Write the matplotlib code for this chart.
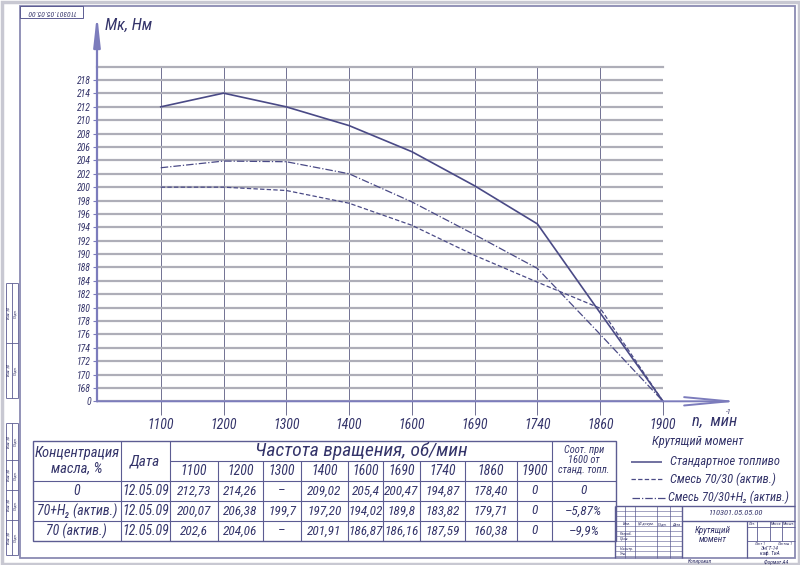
import numpy as np
import matplotlib
matplotlib.use('Agg')
import matplotlib.pyplot as plt
from matplotlib import font_manager
from matplotlib.patches import FancyArrowPatch, Rectangle
from matplotlib.ticker import NullLocator

# --- values ---
rpm = ['1100', '1200', '1300', '1400', '1600', '1690', '1740', '1860', '1900']
torque_std = [212.0, 214.1, 212.0, 209.2, 205.3, 200.2, 194.5, 179.2, 0]
torque_mix = [200.0, 200.0, 199.5, 197.6, 194.3, 189.8, 183.8, 179.9, 0]
torque_mix_h2 = [202.9, 203.9, 203.8, 202.0, 197.8, 192.9, 187.7, 176.0, 0]

# y labels exactly as printed on the sheet (216 and 186 are missing there)
y_ticks = [0, 168, 170, 172, 174, 176, 178, 180, 182, 184,
           188, 190, 192, 194, 196, 198, 200, 202, 204, 206, 208, 210, 212, 214, 218]

table_head = ['Концентрация\nмасла, %', 'Дата']
table_rows = [
    ['0', '12.05.09', '212,73', '214,26', '–', '209,02', '205,4', '200,47', '194,87', '178,40', '0', '0'],
    ['70+H₂ (актив.)', '12.05.09', '200,07', '206,38', '199,7', '197,20', '194,02', '189,8', '183,82', '179,71', '0', '–5,87%'],
    ['70 (актив.)', '12.05.09', '202,6', '204,06', '–', '201,91', '186,87', '186,16', '187,59', '160,38', '0', '–9,9%'],
]
legend_labels = ['Стандартное топливо', 'Смесь 70/30 (актив.)', 'Смесь 70/30+H₂ (актив.)']

# narrow italic face if there is one
names = {f.name for f in font_manager.fontManager.ttflist}
base = 'DejaVu Sans'
for cand in ['Roboto Condensed', 'Liberation Sans Narrow', 'Roboto', 'Liberation Sans']:
    if cand in names:
        base = cand
        break
plt.rcParams['font.family'] = [base, 'DejaVu Sans']
plt.rcParams['font.style'] = 'italic'

W, H = 800, 565
ink = '#34346a'
line_c = '#5c5c92'
axis_c = '#7c7cbc'
curve_c = '#4a4a86'

fig = plt.figure(figsize=(W / 100, H / 100), dpi=100)


# broken y scale: 0..168 squeezed into one cell, 184..188 and 214..218 too
val_k = [0, 168, 184, 188, 214, 218, 222]
pos_k = [168, 170, 186, 188, 214, 216, 218]


def fwd(v):
    return np.interp(v, val_k, pos_k)


def inv(p):
    return np.interp(p, pos_k, val_k)


ax = fig.add_axes([97 / W, 1 - 401.3 / H, (663 - 97) / W, (401.3 - 66.7) / H])
ax.set_zorder(1)
ax.patch.set_alpha(0)
ax.set_yscale('function', functions=(fwd, inv))
x = np.arange(len(rpm))
ax.set_xlim(-1.015, len(rpm) - 1)
ax.set_ylim(0, 222)
ax.set_xticks(x, rpm)
ax.set_yticks(y_ticks, [str(v) for v in y_ticks])
ax.yaxis.set_minor_locator(NullLocator())
for s in ax.spines.values():
    s.set_visible(False)
ax.yaxis.grid(True, color='#aeaeb8', lw=1.6)
ax.xaxis.grid(True, color='#707092', lw=0.7)
ax.axhline(222, color='#aeaeb8', lw=1.6, clip_on=False)
ax.tick_params(axis='y', length=3, width=0.8, color=axis_c, pad=1.5,
               labelsize=7, labelcolor=ink)
ax.tick_params(axis='x', length=10, width=0.7, color='#707092', pad=2,
               labelsize=10, labelcolor=ink)

ax.plot(x, torque_std, color=curve_c, lw=1.2, clip_on=False)
ax.plot(x, torque_mix, color=curve_c, lw=0.9, ls=(0, (3.5, 1.8)), clip_on=False)
ax.plot(x, torque_mix_h2, color=curve_c, lw=0.9, ls=(0, (6, 1.6, 1, 1.6)), clip_on=False)

# --- drawing sheet overlay in pixel coordinates ---
ov = fig.add_axes([0, 0, 1, 1])
ov.set_zorder(3)
ov.patch.set_alpha(0)
ov.set_xlim(0, W)
ov.set_ylim(H, 0)
ov.axis('off')


def ln(xs, ys, c=line_c, lw=0.8, **kw):
    ov.plot(xs, ys, color=c, lw=lw, solid_capstyle='butt', **kw)


def tx(xp, yp, s, size=9, ha='center', va='center', **kw):
    return ov.text(xp, yp, s, fontsize=size, ha=ha, va=va, color=ink, **kw)


# page edge and frame
ov.add_patch(Rectangle((1.5, 1.5), W - 3, H - 3, fill=False, ec='#c8c8d2', lw=2.5))
ov.add_patch(Rectangle((20, 6), 775, 552, fill=False, ec='#8a8ab2', lw=1.3))

# stamp top-left (upside down)
ov.add_patch(Rectangle((20, 6), 63, 12, fill=False, ec=line_c, lw=0.7))
tx(51, 12, '110301.05.05.00', size=5.5, rotation=180)

# binding strips on the left
for (y0, y1, cuts) in [(283, 398, [343]), (423, 555, [460, 490, 520])]:
    for xv in (6, 12, 18):
        ln([xv, xv], [y0, y1], lw=0.6)
    for yv in [y0] + cuts + [y1]:
        ln([6, 18], [yv, yv], lw=0.6)
    edges = [y0] + cuts + [y1]
    for a, b in zip(edges[:-1], edges[1:]):
        tx(9, (a + b) / 2, 'Инв. №', size=3, rotation=90)
        tx(15, (a + b) / 2, 'Подп.', size=3, rotation=90)

# axes with arrows
ov.add_patch(FancyArrowPatch((97, 401.3), (97, 14), arrowstyle='-|>,head_length=18,head_width=2',
                             mutation_scale=1, color=axis_c, lw=1.6, shrinkA=0, shrinkB=0))
ov.add_patch(FancyArrowPatch((97, 401.3), (739, 401.3), arrowstyle='->,head_length=32,head_width=3',
                             mutation_scale=1, color=axis_c, lw=1.4, shrinkA=0, shrinkB=0))
tx(105, 25, 'Мк, Нм', size=12, ha='left')
tx(692, 421, 'n,  мин', size=12, ha='left')
tx(726, 412, '-1', size=5.5, ha='left')

# --- table ---
tl, tr, tt, tb = 33, 616, 441, 541
col_x = [33, 120.5, 170, 218, 263, 301, 348, 383, 420, 465, 517, 552, 616]
row_y = [481, 501, 521, 541]
ov.add_patch(Rectangle((tl, tt), tr - tl, tb - tt, fill=False, ec=line_c, lw=1.0))
for xv in (120.5, 170, 552):
    ln([xv, xv], [tt, tb])
for xv in col_x[3:11]:
    ln([xv, xv], [461, tb])
ln([170, 552], [461, 461])
for yv in row_y[:-1]:
    ln([tl, tr], [yv, yv])

tx(77, 461, table_head[0], size=10.5, linespacing=1.1)
tx(145, 462, table_head[1], size=11)
tx(361, 451, 'Частота вращения, об/мин', size=14)
for i, r in enumerate(rpm):
    tx((col_x[i + 2] + col_x[i + 3]) / 2, 471, r, size=10)
tx(584, 460, 'Соот. при\n1600 от\nстанд. топл.', size=7.5, linespacing=0.95)
for j, row in enumerate(table_rows):
    yc = row_y[j] + 10
    for i, cell in enumerate(row):
        size = 10 if i < 2 else 9.5
        tx((col_x[i] + col_x[i + 1]) / 2, yc, cell, size=size)

# --- legend ---
tx(698, 442, 'Крутящий момент', size=9)
ln([631, 662], [462, 462], c=curve_c, lw=1.1)
ln([631, 662], [479, 479], c=curve_c, lw=0.9, ls=(0, (3.5, 1.8)))
ln([632, 665], [498, 498], c=curve_c, lw=0.9, ls=(0, (6, 1.6, 1, 1.6)))
tx(670, 462, legend_labels[0], size=9, ha='left')
tx(670, 479, legend_labels[1], size=9, ha='left')
tx(668, 497, legend_labels[2], size=8.8, ha='left')

# --- title block ---
ln([615, 795], [506, 506], lw=1.0)
ln([615, 615], [506, 558], lw=1.0)
ln([682, 682], [506, 558], lw=1.0)
ln([682, 795], [521, 521], lw=1.0)
ln([747, 747], [521, 558], lw=0.9)
ln([747, 795], [527, 527], lw=0.6)
ln([747, 795], [541, 541], lw=0.6)
for xv in (757, 770, 782):
    ln([xv, xv], [521, 541], lw=0.6)
for xv in (625, 635, 657, 670):
    ln([xv, xv], [506, 558], lw=0.5)
for yv in range(511, 558, 5):
    ln([615, 682], [yv, yv], lw=0.4)
tx(735, 513, '110301.05.05.00', size=6)
tx(713, 535, 'Крутящий\nмомент', size=6.5, linespacing=1.0)
tx(752, 524, 'Лит.', size=3)
tx(776, 524, 'Масса', size=3)
tx(789, 524, 'Масшт.', size=3)
tx(760, 544, 'Лист 1', size=3)
tx(785, 544, 'Листов 1', size=3)
tx(770, 551, 'ЭнГТ-14\nкаф. ТиА', size=4, linespacing=1.0)
tx(627, 524, 'Изм.', size=3)
tx(646, 524, '№ докум.', size=3)
tx(663, 524, 'Подп.', size=3)
tx(676, 524, 'Дата', size=3)
tx(620, 534, 'Разраб.', size=3, ha='left')
tx(620, 539, 'Пров.', size=3, ha='left')
tx(620, 549, 'Н.контр.', size=3, ha='left')
tx(620, 554, 'Утв.', size=3, ha='left')
tx(700, 562, 'Копировал', size=4)
tx(776, 562, 'Формат А4', size=4)

fig.savefig('out.png', dpi=100)
